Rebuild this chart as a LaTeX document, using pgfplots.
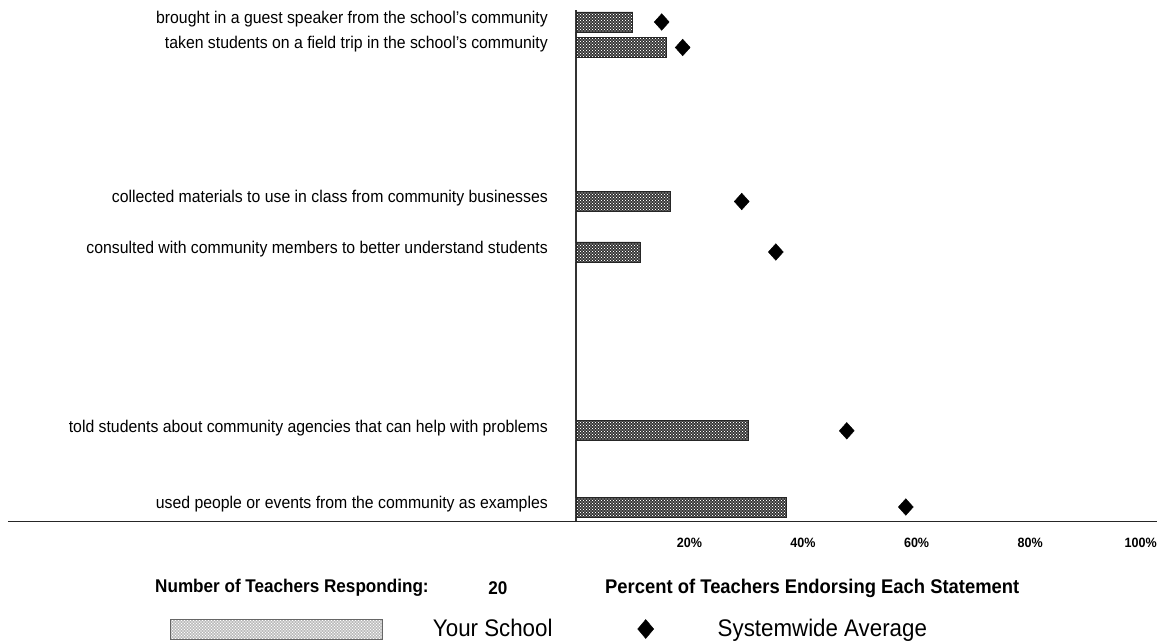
\documentclass[border=0pt]{standalone}
\usepackage{fontspec}
\setmainfont[FakeStretch=0.93]{Liberation Sans}
\usepackage{pgfplots}
\pgfplotsset{compat=1.18}
\usetikzlibrary{patterns}
\pgfdeclarepatternformonly{mydots}{\pgfqpoint{-1pt}{-1pt}}{\pgfqpoint{4pt}{4pt}}{\pgfqpoint{3pt}{3pt}}{%
  \pgfpathcircle{\pgfqpoint{0pt}{0pt}}{0.7pt}\pgfpathcircle{\pgfqpoint{1.5pt}{1.5pt}}{0.7pt}\pgfusepath{fill}}
\begin{document}
\begin{tikzpicture}
\path[use as bounding box] (-576pt,-118.3pt) rectangle (583pt,521.7pt);
\begin{axis}[
  scale only axis, width=579pt, height=511.7pt,
  xmin=0, xmax=102, ymin=0, ymax=511.7,
  clip=false,
  axis x line*=bottom, axis y line*=left,
  x axis line style={draw=none},
  y axis line style={draw=black!80, line width=1.2pt},
  major tick length=0pt,
  xtick={20,40,60,80,100},
  xticklabels={20\%,40\%,60\%,80\%,\hspace*{-6pt}100\%},
  xticklabel style={anchor=center, inner sep=0pt, yshift=-21.5pt, font=\bfseries\fontsize{13.5}{13.5}\selectfont},
  ytick={14.7,90.9,269.7,320.2,474.2,499.7},
  yticklabels={used people or events from the community as examples,
    told students about community agencies that can help with problems,
    consulted with community members to better understand students,
    collected materials to use in class from community businesses,
    taken students on a field trip in the school's community,
    brought in a guest speaker from the school's community},
  yticklabel style={anchor=east, inner sep=0pt, xshift=-28pt, yshift=3pt, font=\fontsize{17}{17}\selectfont},
  legend columns=2,
  legend style={draw=none, fill=none, at={(-0.7012,-0.2097)}, anchor=west, inner sep=0pt,
    font=\fontsize{24}{24}\selectfont,
    nodes={inner sep=0pt},
    /tikz/every odd column/.append style={column sep=50pt},
    /tikz/every even column/.append style={column sep=85pt}},
]
\addplot[xbar, bar width=20pt, bar shift=0pt, draw=black!85, line width=0.8pt,
  fill=black!82, postaction={pattern=mydots, pattern color=white},
  legend image code/.code={\draw[draw=black!60, fill=black!28, postaction={pattern=mydots, pattern color=white}] (0pt,-10pt) rectangle (212pt,10pt);}]
  coordinates {(10.0,499.7) (15.9,474.2) (16.7,320.2) (11.3,269.7) (30.4,90.9) (37.1,14.7)};
\addlegendentry{Your School}
\addplot[only marks, mark=diamond*, mark size=8.3pt, mark options={xscale=1.2, fill=black, draw=black},
  legend image code/.code={\fill[black] (8pt,9.5pt) -- (16pt,0pt) -- (8pt,-9.5pt) -- (0pt,0pt) -- cycle; \path[draw=none, fill=none] (0pt,0pt) -- (30pt,0pt);}]
  coordinates {(15.1,499.7) (18.8,474.2) (29.2,320.2) (35.2,269.7) (47.7,90.9) (58.1,14.7)};
\addlegendentry{Systemwide Average}
\end{axis}
\draw[black!85, line width=1.4pt] (-568pt,0pt) -- (581pt,0pt);
\begin{scope}[every node/.style={inner sep=0pt}]
\node[anchor=west, font=\bfseries\fontsize{18.4}{18.4}\selectfont] at (-421pt,-66.3pt) {Number of Teachers Responding:};
\node[font=\bfseries\fontsize{18.4}{18.4}\selectfont] at (-78pt,-66.3pt) {20};
\node[anchor=west, font=\bfseries\fontsize{19.8}{19.8}\selectfont] at (29pt,-66.3pt) {Percent of Teachers Endorsing Each Statement};
\end{scope}
\end{tikzpicture}
\end{document}
